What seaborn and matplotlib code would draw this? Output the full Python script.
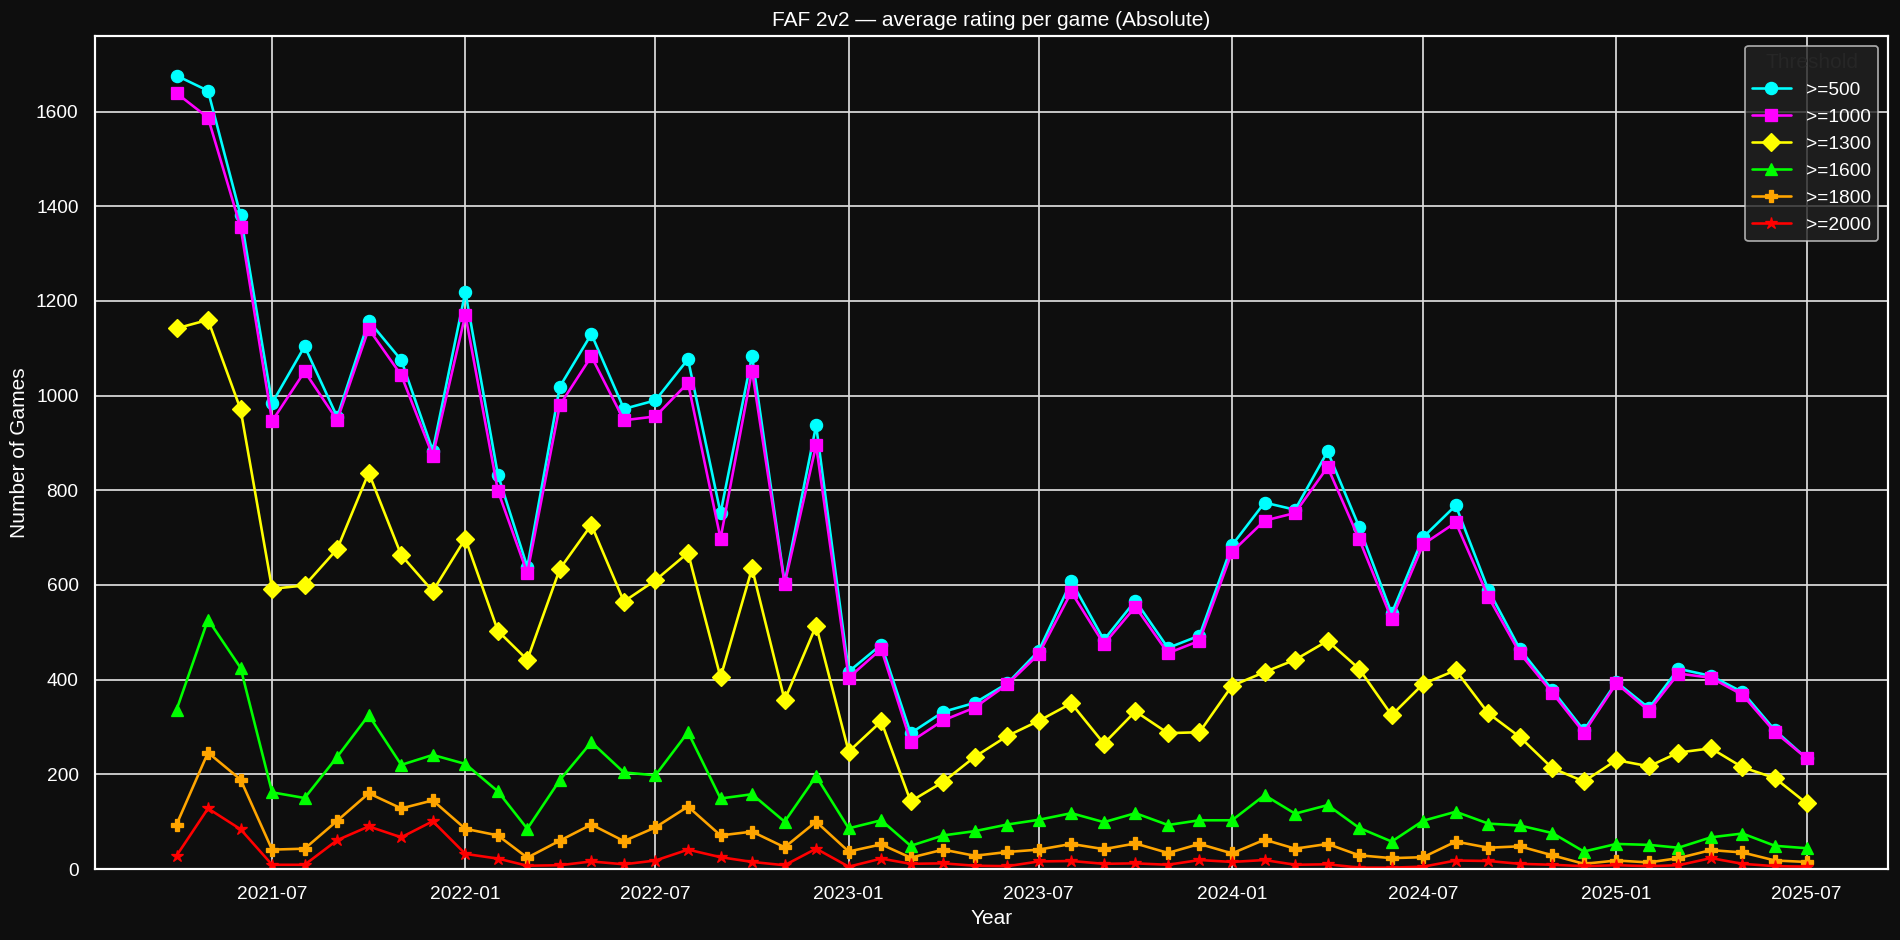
import pandas as pd
import matplotlib
matplotlib.use('Agg')
import matplotlib.pyplot as plt
import matplotlib.dates as mdates
import seaborn as sns


# maandelijkse data, april 2021 t/m juli 2025
months = pd.date_range('2021-04-01', '2025-07-01', freq='MS')

thresholds = ['>=500', '>=1000', '>=1300', '>=1600', '>=1800', '>=2000']

games_500 = [1676, 1644, 1381, 984, 1104, 955, 1158, 1075,
             884, 1219, 833, 638, 1019, 1130, 972, 990, 1077, 752,
             1084, 605, 937, 417, 474, 287, 332, 351, 392, 461,
             608, 484, 567, 467, 493, 684, 774, 759, 882, 723,
             540, 701, 768, 590, 465, 378, 293, 395, 340, 423,
             408, 374, 293, 234]
games_1000 = [1639, 1587, 1356, 946, 1051, 948, 1141, 1043,
              873, 1171, 799, 625, 980, 1083, 948, 956, 1027, 698,
              1053, 602, 895, 404, 465, 269, 314, 341, 390, 454,
              585, 475, 554, 456, 482, 670, 736, 752, 849, 697,
              528, 686, 732, 575, 456, 372, 288, 392, 334, 413,
              404, 368, 289, 234]
games_1300 = [1142, 1160, 971, 592, 599, 676, 837, 663,
              587, 698, 503, 442, 634, 727, 565, 610, 668, 405,
              635, 357, 514, 248, 312, 143, 184, 237, 281, 313,
              350, 265, 333, 287, 289, 387, 416, 442, 482, 423,
              325, 391, 420, 329, 279, 213, 185, 230, 217, 246,
              255, 215, 192, 139]
games_1600 = [336, 527, 425, 162, 150, 237, 325, 220,
              241, 222, 164, 85, 188, 268, 204, 198, 289, 149,
              158, 100, 196, 86, 103, 49, 71, 80, 94, 104,
              118, 99, 118, 93, 103, 103, 156, 117, 135, 87,
              58, 102, 121, 96, 92, 76, 37, 53, 51, 45,
              67, 75, 49, 44]
games_1800 = [94, 246, 189, 41, 43, 102, 160, 128,
              145, 85, 71, 24, 60, 94, 59, 88, 132, 71,
              79, 46, 100, 37, 52, 24, 41, 28, 36, 41,
              53, 42, 54, 34, 53, 33, 62, 43, 53, 29,
              23, 25, 58, 45, 48, 29, 11, 18, 14, 23,
              40, 35, 18, 15]
games_2000 = [28, 128, 84, 9, 9, 61, 90, 67,
              101, 32, 22, 7, 8, 16, 10, 18, 41, 25,
              15, 8, 43, 5, 22, 11, 12, 7, 6, 16,
              17, 11, 12, 9, 19, 15, 19, 9, 10, 3,
              3, 5, 18, 17, 11, 9, 6, 8, 6, 8,
              23, 11, 6, 5]

series = [games_500, games_1000, games_1300, games_1600, games_1800, games_2000]
colors = ['#00ffff', '#ff00ff', '#ffff00', '#00ff00', '#ffa500', '#ff0000']
markers = ['o', 's', 'D', '^', 'P', '*']

bg = '#0e0e0e'
sns.set_theme(style='darkgrid', context='notebook')
plt.rcParams['font.family'] = ['Liberation Sans', 'DejaVu Sans']
plt.rcParams.update({
    'figure.facecolor': bg,
    'axes.facecolor': bg,
    'axes.edgecolor': 'white',
    'grid.color': '#dddddd',
    'xtick.color': 'white',
    'ytick.color': 'white',
    'axes.labelcolor': 'white',
})

dpi = 125
fig, ax = plt.subplots(figsize=(1900 / dpi, 940 / dpi), dpi=dpi)
fig.subplots_adjust(left=0.05, right=0.9937, top=0.9617, bottom=0.0755)

for label, vals, c, m in zip(thresholds, series, colors, markers):
    sns.lineplot(x=months, y=vals, ax=ax, color=c, marker=m, label=label,
                 markeredgecolor=c, markersize=7, linewidth=1.5)

ax.set_ylim(bottom=0)
ax.xaxis.set_major_locator(mdates.MonthLocator(bymonth=(1, 7)))
ax.xaxis.set_major_formatter(mdates.DateFormatter('%Y-%m'))
for side in ax.spines.values():
    side.set_color('white')
    side.set_linewidth(1.25)

ax.set_title('FAF 2v2 \u2014 average rating per game (Absolute)', color='white')
ax.set_xlabel('Year', color='white')
ax.set_ylabel('Number of Games', color='white')

leg = ax.legend(title='Threshold', loc='upper right', facecolor='#222222',
                edgecolor='#cccccc', labelcolor='white')

fig.savefig('out.png', dpi=dpi, facecolor=bg)
